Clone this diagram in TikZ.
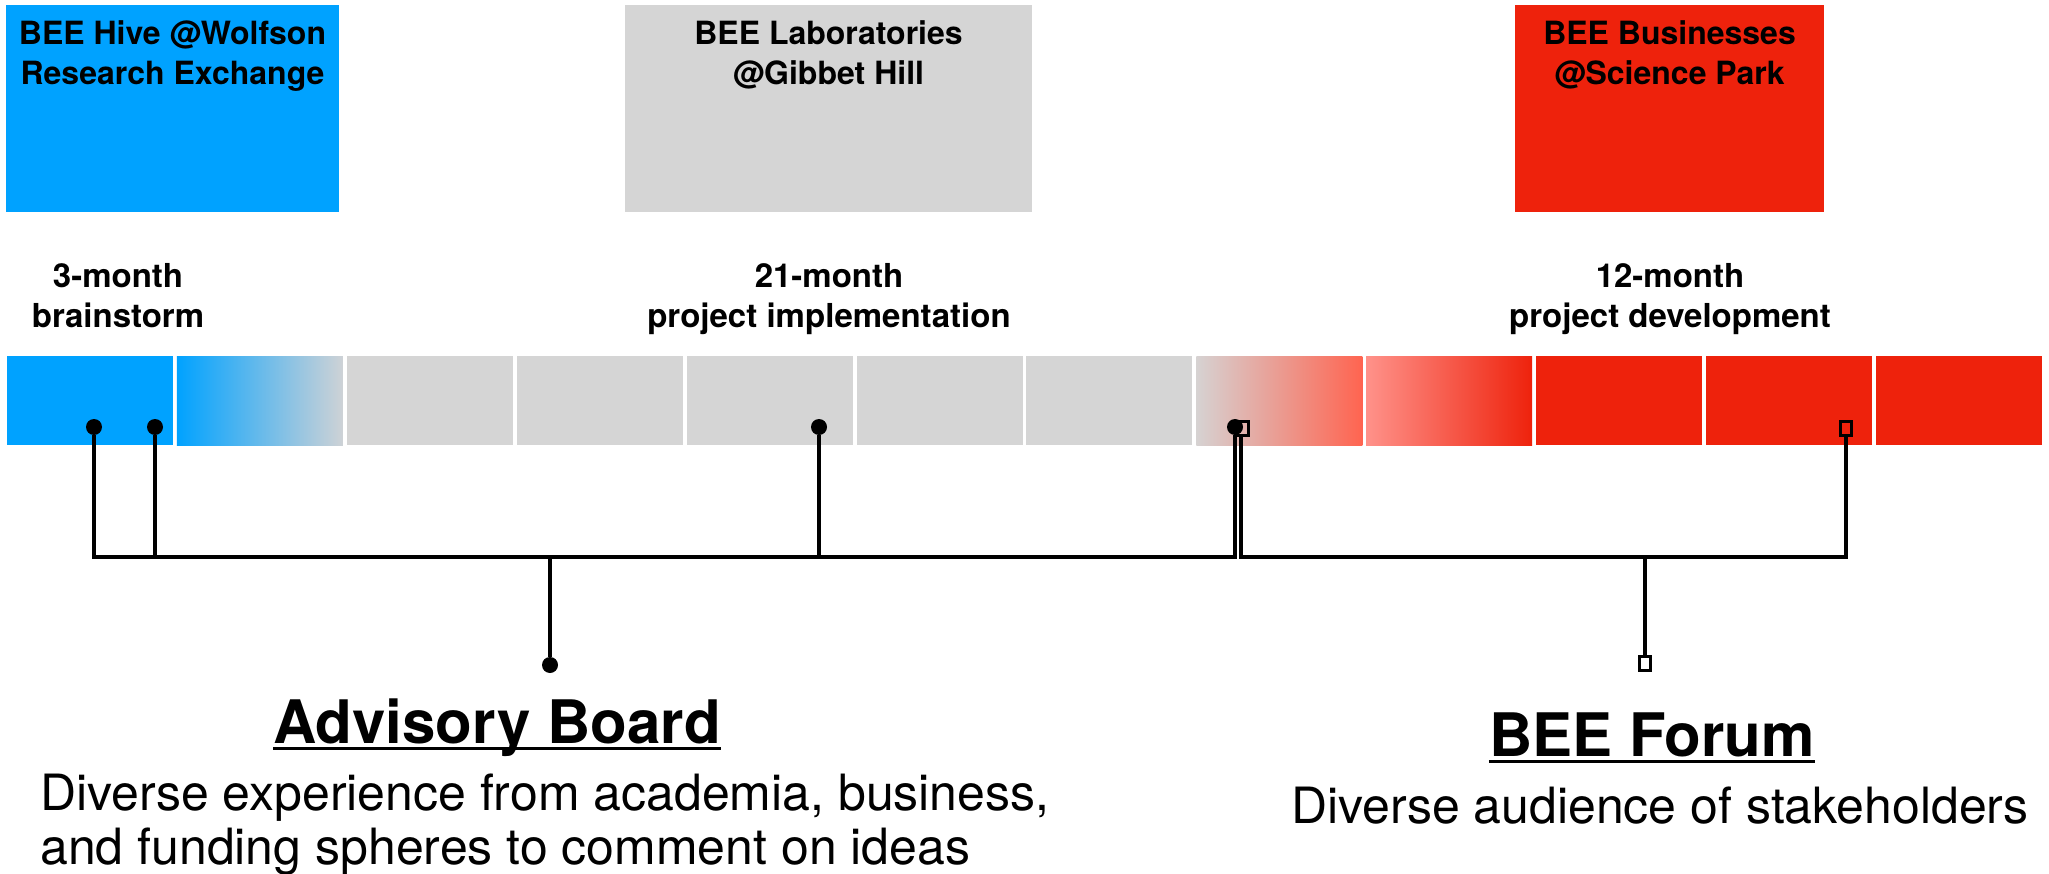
\documentclass[tikz,border=0pt]{standalone}
\usepackage{fontspec}
\setmainfont{TeX Gyre Heros}
\definecolor{beeblue}{RGB}{0,162,255}
\definecolor{beegray}{RGB}{213,213,213}
\definecolor{beered}{RGB}{238,34,12}
\definecolor{fadegray}{RGB}{206,210,214}
\definecolor{graypink}{RGB}{214,210,210}
\definecolor{tomatoend}{RGB}{255,100,80}
\definecolor{salmon}{RGB}{255,146,138}
\tikzset{
  venue/.style={inner sep=0, outer sep=0, anchor=north west, minimum height=207pt},
  cell/.style={inner sep=0, outer sep=0, anchor=north west, minimum width=166pt, minimum height=89pt},
  title/.style={font=\fontsize{32}{38}\selectfont\bfseries, anchor=base, inner sep=0},
  period/.style={font=\fontsize{33}{38}\selectfont\bfseries, anchor=base, inner sep=0},
  heading/.style={font=\fontsize{60}{70}\selectfont\bfseries, anchor=base, inner sep=0},
  desc/.style={font=\fontsize{50}{56}\selectfont, inner sep=0},
  dotmark/.style={circle, fill=black, inner sep=0, minimum size=16pt},
  sqmark/.style={rectangle, draw=black, line width=3pt, inner sep=0, minimum width=11pt, minimum height=14pt},
  conn/.style={line width=3.5pt, black},
  uline/.style={line width=3pt, black}
}
\begin{document}
\begin{tikzpicture}[x=1pt,y=-1pt]
\useasboundingbox (0,0) rectangle (2049,874);
% venue boxes
\node[venue, fill=beeblue, minimum width=333pt] (hive) at (6,5) {};
\node[venue, fill=beegray, minimum width=407pt] (labs) at (625,5) {};
\node[venue, fill=beered, minimum width=309pt] (biz) at (1515,5) {};
\node[title] (hiveA) at (172.5,45) {BEE Hive @Wolfson};
\node[title] (hiveB) at (172.5,85) {Research Exchange};
\node[title] (labsA) at (828.5,45) {BEE Laboratories};
\node[title] (labsB) at (828.5,85) {@Gibbet Hill};
\node[title] (bizA) at (1669.5,45) {BEE Businesses};
\node[title] (bizB) at (1669.5,85) {@Science Park};
% period labels
\node[period] (p1a) at (118,288) {3-month};
\node[period] (p1b) at (118,327) {brainstorm};
\node[period] (p2a) at (829,288) {21-month};
\node[period] (p2b) at (829,327) {project implementation};
\node[period] (p3a) at (1670,288) {12-month};
\node[period] (p3b) at (1670,327) {project development};
% timeline cells
\node[cell, fill=beeblue] (c1) at (7,356) {};
\node[cell, left color=beeblue, right color=fadegray] (c2) at (176.9,356) {};
\foreach \i in {3,...,7} {
  \node[cell, fill=beegray] (c\i) at ({7+169.9*(\i-1)},356) {};
}
\node[cell, left color=graypink, right color=tomatoend] (c8) at (1196.3,356) {};
\node[cell, left color=salmon, right color=beered] (c9) at (1366.2,356) {};
\foreach \i in {10,11,12} {
  \node[cell, fill=beered] (c\i) at ({7+169.9*(\i-1)},356) {};
}
% markers
\node[dotmark] (d1) at (94,427) {};
\node[dotmark] (d2) at (155,427) {};
\node[dotmark] (d3) at (819,427) {};
\node[sqmark] (s1) at (1243,428) {};
\node[dotmark] (d4) at (1235,427) {};
\node[sqmark] (s2) at (1846,428) {};
\node[dotmark] (ab) at (550,665) {};
\node[sqmark] (fs) at (1645,663) {};
% buses
\coordinate (abbus) at (550,557);
\coordinate (fsbus) at (1645,557);
\draw[conn] (d1.south) |- (abbus);
\draw[conn] (d2.south) |- (abbus);
\draw[conn] (d3.south) |- (abbus);
\draw[conn] (d4.south) |- (abbus);
\draw[conn] (abbus) -- (ab.north);
\draw[conn] ([xshift=-2pt]s1.south) |- (fsbus);
\draw[conn] (s2.south) |- (fsbus);
\draw[conn] (fsbus) -- (fs.north);
% bottom texts
\node[heading] (abt) at (497,743) {Advisory Board};
\draw[uline] ([yshift=-5pt]abt.base west) -- ([yshift=-5pt]abt.base east);
\node[desc, anchor=base west] (abd1) at (40,810) {Diverse experience from academia, business,};
\node[desc, anchor=base west] (abd2) at (40,864) {and funding spheres to comment on ideas};
\node[heading] (fst) at (1652,756) {BEE Forum};
\draw[uline] ([yshift=-5pt]fst.base west) -- ([yshift=-5pt]fst.base east);
\node[desc, anchor=base] (fsd) at (1660,823) {Diverse audience of stakeholders};
\end{tikzpicture}
\end{document}
